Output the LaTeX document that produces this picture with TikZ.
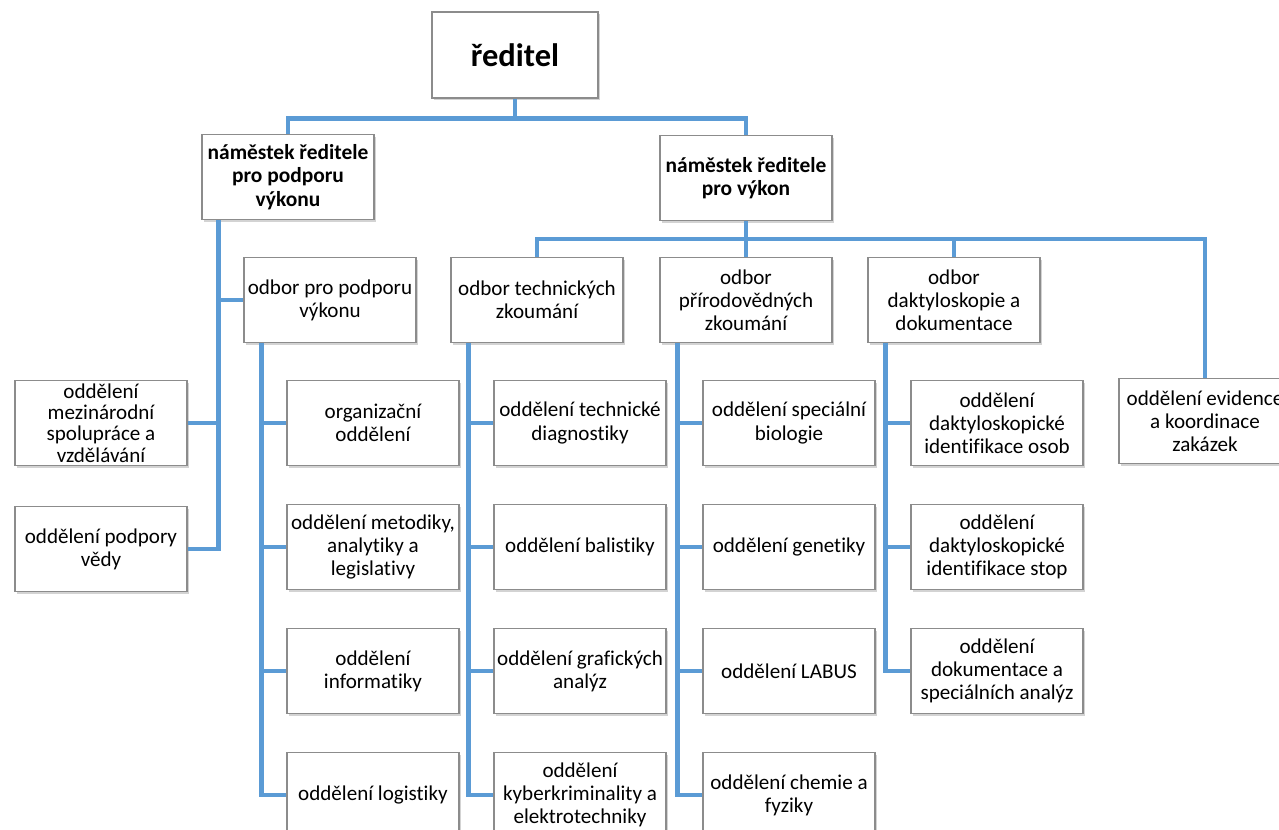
\documentclass[tikz,border=0pt]{standalone}
\usepackage{fontspec}
\setmainfont{Carlito}[Ligatures=NoCommon]
\usetikzlibrary{positioning, calc, shadows}
\definecolor{orgblue}{HTML}{5B9BD5}

\begin{document}
\begin{tikzpicture}[x=0.02cm, y=-0.02cm, node distance=0.76cm,
  box/.style={draw=black!45, line width=0.6pt, fill=white, align=center, minimum width=3.44cm, minimum height=1.7cm, inner sep=1pt, font=\fontsize{12}{13.2}\selectfont, drop shadow={shadow xshift=1.2pt, shadow yshift=-1.2pt, opacity=0.35}},
  headbox/.style={box, font=\fontsize{12.2}{13.4}\selectfont\bfseries},
  conn/.style={draw=orgblue, line width=2.6pt}]
\useasboundingbox (0,0) rectangle (1279,829);
\clip (0,0) rectangle (1279,829);

% vedeni
\node[box, minimum width=3.32cm, minimum height=1.72cm, font=\fontsize{18.5}{22}\selectfont\bfseries] (reditel) at (515,55) {ředitel};
\node[headbox] (nam1) at (288,177) {náměstek ředitele\\pro podporu\\výkonu};
\node[headbox] (nam2) at (746,178) {náměstek ředitele\\pro výkon};

% odbory
\node[box] (podpora) at (330,300) {odbor pro podporu\\výkonu};
\node[box] (tech) at (537,300) {odbor technických\\zkoumání};
\node[box] (prir) at (746,300) {odbor\\přírodovědných\\zkoumání};
\node[box] (dakt) at (954,300) {odbor\\daktyloskopie a\\dokumentace};
\node[box] (evid) at (1205,421) {oddělení evidence\\a koordinace\\zakázek};
\node[box, inner ysep=0pt, font=\fontsize{12}{12.2}\selectfont] (mezin) at (101,423) {oddělení\\mezinárodní\\spolupráce a\\vzdělávání};
\node[box, below=0.8cm of mezin] (veda) {oddělení podpory\\vědy};

% oddeleni
\node[box] (org) at (373,423) {organizační\\oddělení};
\node[box, below=of org] (metod) {oddělení metodiky,\\analytiky a\\legislativy};
\node[box, below=of metod] (inf) {oddělení\\informatiky};
\node[box, below=of inf] (log) {oddělení logistiky};

\node[box] (diag) at (580,423) {oddělení technické\\diagnostiky};
\node[box, below=of diag] (bal) {oddělení balistiky};
\node[box, below=of bal] (graf) {oddělení grafických\\analýz};
\node[box, below=of graf] (kyber) {oddělení\\kyberkriminality a\\elektrotechniky};

\node[box] (bio) at (789,423) {oddělení speciální\\biologie};
\node[box, below=of bio] (gen) {oddělení genetiky};
\node[box, below=of gen] (labus) {oddělení LABUS};
\node[box, below=of labus] (chem) {oddělení chemie a\\fyziky};

\node[box] (osob) at (997,423) {oddělení\\daktyloskopické\\identifikace osob};
\node[box, below=of osob] (stop) {oddělení\\daktyloskopické\\identifikace stop};
\node[box, below=of stop] (dok) {oddělení\\dokumentace a\\speciálních analýz};

% spojnice
\draw[conn] (reditel.south) -- ++(0,20) -| (nam1.north);
\draw[conn] (reditel.south) -- ++(0,20) -| (nam2.north);
\foreach \n in {tech,prir,dakt,evid}
  \draw[conn] (nam2.south) -- ++(0,18) -| (\n.north);

\coordinate (s1) at ($(nam1.south west)+(17,0)$);
\draw[conn] (s1) |- (podpora.west);
\foreach \n in {mezin,veda}
  \draw[conn] (s1) |- (\n.east);

\foreach \o/\kids in {podpora/{org,metod,inf,log}, tech/{diag,bal,graf,kyber}, prir/{bio,gen,labus,chem}, dakt/{osob,stop,dok}}{
  \coordinate (st) at ($(\o.south west)+(18,0)$);
  \foreach \n in \kids
    \draw[conn] (st) |- (\n.west);
}
\end{tikzpicture}
\end{document}
